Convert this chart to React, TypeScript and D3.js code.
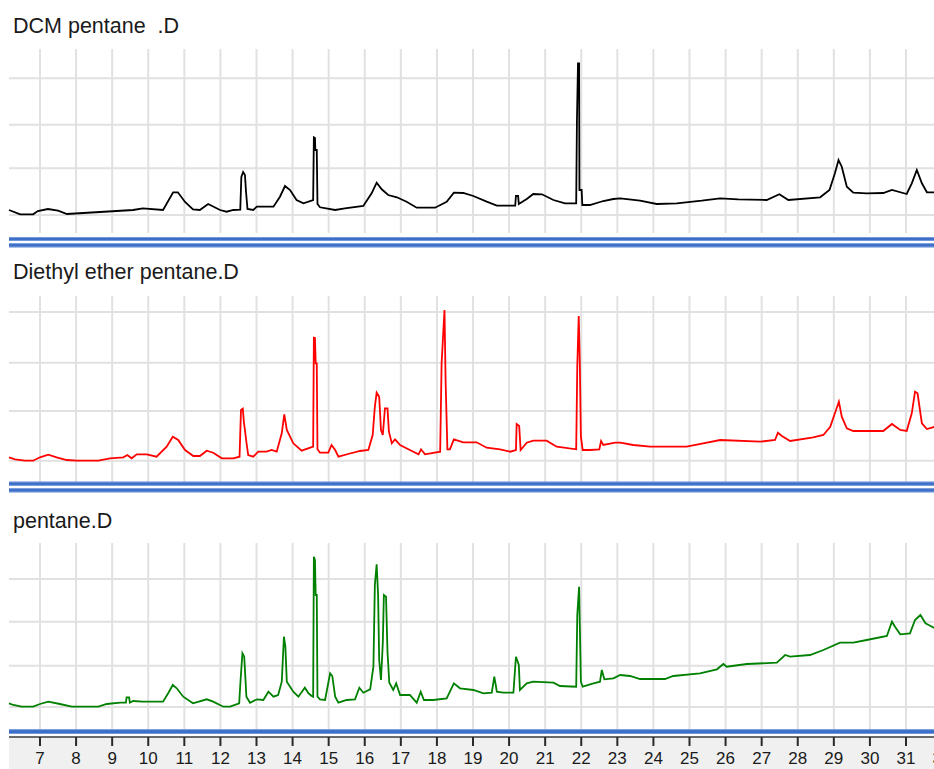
import React from "react";
import * as d3 from "d3";

// ---- data (retention time in minutes, abundance in arbitrary units) ----
const panelTitles = ["DCM pentane\u00a0\u00a0.D", "Diethyl ether pentane.D", "pentane.D"];
const traceColors = ["#000000", "#ff0000", "#008000"];
const xTickValues = [7, 8, 9, 10, 11, 12, 13, 14, 15, 16, 17, 18, 19, 20, 21, 22, 23, 24, 25, 26, 27, 28, 29, 30, 31, 32];

const dcmTrace: [number, number][] = [
  [6.14, 23], [6.45, 18.7], [6.81, 18.7], [6.94, 22], [7.22, 24], [7.5, 22.3], [7.75, 19], [8.66, 21], [9.58, 23], [9.85, 24.7],
  [10.41, 23], [10.69, 40.7], [10.82, 40.7], [11.02, 31], [11.24, 23.7], [11.43, 23], [11.66, 29], [11.99, 23], [12.17, 21.3],
  [12.36, 23], [12.55, 23.3], [12.58, 56], [12.63, 61], [12.68, 58], [12.71, 41], [12.75, 24], [12.91, 23], [13.01, 26.3],
  [13.47, 26.3], [13.65, 36.3], [13.79, 47], [13.93, 43], [14.11, 33], [14.3, 29.7], [14.57, 33], [14.59, 95.7], [14.62, 95],
  [14.63, 83], [14.67, 83], [14.69, 29], [14.76, 25.7], [15.18, 23], [15.45, 24.7], [15.96, 27], [16.19, 39.7], [16.33, 50.3],
  [16.47, 43.7], [16.65, 38], [16.89, 35.7], [17.16, 31.3], [17.44, 25.3], [17.95, 25.3], [18.27, 31.3], [18.47, 40.3],
  [18.73, 40], [19.01, 37], [19.38, 31.3], [19.66, 27.3], [20.17, 27.3], [20.19, 37], [20.25, 37], [20.27, 29], [20.49, 34],
  [20.67, 39], [20.91, 38.7], [21.23, 33], [21.55, 29.7], [21.86, 29.7], [21.88, 111], [21.91, 169.7], [21.94, 169.7],
  [21.95, 43], [22.01, 43], [22.03, 28], [22.24, 28], [22.61, 32], [22.89, 34], [23.08, 34.7], [23.63, 32.3], [24.09, 29],
  [24.65, 29.7], [25.34, 32.3], [25.85, 34.7], [26.35, 33.7], [27.14, 33], [27.49, 38.7], [27.74, 33], [28.62, 35.7],
  [28.88, 43], [29.03, 59.7], [29.13, 73], [29.22, 66.3], [29.36, 46.3], [29.54, 40.3], [29.91, 39.7], [30.37, 40],
  [30.61, 43], [31.02, 39], [31.16, 49.7], [31.3, 63], [31.44, 49.7], [31.58, 40.7], [31.8, 40.7],
];

const etherTrace: [number, number][] = [
  [6.14, 24.7], [6.31, 22.7], [6.58, 21.3], [6.81, 21.3], [7.0, 24.7], [7.23, 27.3], [7.46, 24.7], [7.74, 22], [8.02, 21.3],
  [8.62, 21.3], [8.94, 23.7], [9.31, 24.7], [9.42, 27], [9.54, 23.7], [9.68, 27.7], [9.96, 27.7], [10.23, 25.3], [10.51, 35.3],
  [10.68, 45.3], [10.83, 42], [11.02, 32], [11.25, 26], [11.43, 26], [11.62, 31.3], [11.8, 29.3], [12.04, 23.7], [12.36, 23.7],
  [12.53, 25.3], [12.57, 72], [12.62, 73.3], [12.65, 60], [12.68, 52], [12.72, 40], [12.77, 27], [12.91, 25.3], [13.05, 30.3],
  [13.28, 30.3], [13.42, 32], [13.56, 30.3], [13.7, 48.7], [13.77, 67.7], [13.84, 52], [14.02, 38.7], [14.25, 31.3],
  [14.57, 35.3], [14.59, 144.3], [14.62, 144], [14.64, 118.7], [14.67, 118.7], [14.69, 32.7], [14.76, 29.3], [14.99, 29.3],
  [15.08, 37], [15.18, 32], [15.27, 25.3], [15.54, 28], [15.87, 31], [16.1, 32], [16.22, 47], [16.28, 75.3], [16.33, 89.3],
  [16.4, 85.3], [16.45, 52], [16.5, 47], [16.56, 73.7], [16.63, 73.7], [16.67, 50.3], [16.75, 38.7], [16.84, 42.7],
  [16.98, 37], [17.25, 32], [17.49, 27.7], [17.56, 32.7], [17.67, 27.7], [18.09, 30.3], [18.13, 118.7], [18.21, 172],
  [18.24, 102], [18.29, 32.7], [18.36, 32.7], [18.47, 42.7], [18.73, 39.7], [19.1, 39.7], [19.38, 34.3], [19.75, 32.7],
  [20.03, 30.3], [20.19, 32], [20.21, 58], [20.28, 56], [20.32, 32], [20.49, 39.3], [20.67, 41.3], [21.04, 41.3],
  [21.32, 35.3], [21.86, 32.7], [21.89, 115.3], [21.93, 166], [21.96, 120], [21.99, 45.3], [22.04, 32], [22.24, 32],
  [22.5, 32.7], [22.55, 41], [22.61, 37], [22.94, 39.3], [23.08, 39.3], [23.44, 37], [23.91, 35.3], [24.92, 35.3],
  [25.38, 38.7], [25.85, 42], [26.96, 40.3], [27.37, 42], [27.45, 49.3], [27.56, 46], [27.79, 41], [28.43, 44.7],
  [28.71, 47], [28.9, 55.3], [29.03, 68.7], [29.14, 80.3], [29.22, 65.3], [29.36, 53.7], [29.54, 51], [30.37, 51],
  [30.61, 58], [30.84, 52], [31.02, 51], [31.16, 68.7], [31.25, 90.3], [31.32, 88.7], [31.44, 58.7], [31.58, 53], [31.8, 55.3],
];

const pentaneTrace: [number, number][] = [
  [6.14, 26.7], [6.26, 25], [6.49, 23.3], [6.81, 23.3], [7.0, 26], [7.23, 28.3], [7.55, 26], [7.88, 23.3], [8.62, 23.3],
  [8.85, 26], [9.22, 27.3], [9.38, 27.3], [9.4, 32.7], [9.47, 32.7], [9.49, 27.3], [9.58, 29], [9.85, 28.3], [10.41, 28.3],
  [10.56, 37.3], [10.68, 45], [10.79, 41.7], [10.97, 33.3], [11.24, 26.7], [11.62, 30.7], [11.8, 28.3], [12.08, 23.3],
  [12.27, 23.3], [12.52, 26.7], [12.56, 50.7], [12.61, 76.7], [12.66, 73.3], [12.72, 33.3], [12.82, 27.3], [13.01, 30.7],
  [13.19, 30], [13.33, 38.3], [13.47, 33.3], [13.6, 35], [13.7, 48.3], [13.76, 93.3], [13.8, 83.3], [13.84, 48.3],
  [14.02, 38.3], [14.16, 33.3], [14.34, 42.3], [14.44, 36.7], [14.53, 34], [14.57, 33.3], [14.59, 173.3], [14.62, 170],
  [14.64, 135], [14.67, 135], [14.69, 33.3], [14.76, 30.7], [14.9, 30], [15.04, 56.7], [15.1, 54], [15.18, 33.3],
  [15.27, 27.3], [15.5, 30], [15.73, 30.7], [15.85, 42.3], [15.96, 37.3], [16.15, 40.7], [16.24, 63.3], [16.28, 145],
  [16.33, 165.7], [16.37, 135], [16.4, 70], [16.45, 50], [16.5, 86.7], [16.53, 135], [16.59, 133.3], [16.63, 78.3],
  [16.68, 47.3], [16.79, 40], [16.87, 46.7], [16.98, 35], [17.25, 35], [17.44, 27.3], [17.55, 38.3], [17.64, 30],
  [17.9, 30], [18.27, 31.7], [18.47, 46.7], [18.64, 41.7], [19.01, 40], [19.29, 36.7], [19.52, 37.3], [19.59, 53.3],
  [19.63, 45], [19.66, 38.3], [19.84, 37.3], [20.12, 37.3], [20.19, 73.3], [20.27, 65], [20.3, 40], [20.49, 46.7],
  [20.67, 48.3], [21.23, 47.3], [21.41, 44], [21.86, 43.3], [21.89, 115], [21.94, 143.3], [21.99, 48.3], [22.04, 43.3],
  [22.34, 46.7], [22.52, 48.3], [22.57, 60], [22.64, 50.7], [22.89, 51.7], [23.08, 55], [23.35, 54], [23.63, 51],
  [24.0, 51], [24.32, 51], [24.55, 54], [25.29, 56.7], [25.76, 60.7], [25.94, 66], [26.03, 63.3], [26.59, 66],
  [27.42, 67.3], [27.65, 75], [27.79, 73.3], [28.34, 75], [28.71, 80], [29.17, 87.3], [29.54, 87.3], [29.91, 90],
  [30.47, 94], [30.61, 108.3], [30.7, 103], [30.84, 95.7], [31.11, 96.7], [31.25, 110], [31.4, 115], [31.54, 106.7],
  [31.72, 103.3], [31.8, 101.7],
];

const traces = [dcmTrace, etherTrace, pentaneTrace];
// horizontal grid values per panel
const yGridValues = [
  [18, 64.7, 108.3, 154.7],
  [21.3, 71, 119.3, 170],
  [23, 64.3, 108.3, 151],
];

// ---- layout ----
const W = 934;
const H = 769;
const plotLeft = 9;
const panels = [
  { title: 33, top: 49, bottom: 233, bands: [[237, 4], [243.3, 4]] },
  { title: 279, top: 296, bottom: 482, bands: [[481.7, 4], [488.3, 4]] },
  { title: 528, top: 543, bottom: 730, bands: [[729.3, 4.7]] },
];
const axisY = 737;

export default function App() {
  const x = d3.scaleLinear().domain([7, 31]).range([40, 906]);
  const font = "'Liberation Sans', Arial, sans-serif";

  return (
    <svg
      width={W}
      height={H}
      viewBox={`0 0 ${W} ${H}`}
      style={{ position: "absolute", left: 0, top: 0, background: "#fff" }}
    >
      {panels.map((p, i) => {
        const y = d3
          .scaleLinear()
          .domain([0, p.bottom - p.top])
          .range([p.bottom, p.top]);
        const line = d3
          .line<[number, number]>()
          .x((d) => x(d[0]))
          .y((d) => y(d[1]));
        return (
          <g key={i}>
            <text
              x={13}
              y={p.title}
              fontFamily={font}
              fontSize={21.5}
              fill="#1a1a1a"
              style={{ whiteSpace: "pre" }}
            >
              {panelTitles[i]}
            </text>
            {xTickValues.map((t) => (
              <line
                key={"v" + t}
                x1={x(t)}
                x2={x(t)}
                y1={p.top}
                y2={p.bottom}
                stroke="#e1e1e1"
                strokeWidth={2}
              />
            ))}
            {yGridValues[i].map((v) => (
              <line
                key={"h" + v}
                x1={plotLeft}
                x2={W}
                y1={y(v)}
                y2={y(v)}
                stroke="#e1e1e1"
                strokeWidth={2}
              />
            ))}
            <path
              d={line(traces[i]) || ""}
              fill="none"
              stroke={traceColors[i]}
              strokeWidth={1.8}
              strokeLinejoin="miter"
            />
            {p.bands.map(([by, bh], j) => (
              <g key={"b" + j}>
                <rect x={plotLeft} y={by} width={W - plotLeft} height={bh} fill="#3d6fc9" />
                <rect x={plotLeft} y={by} width={W - plotLeft} height={0.8} fill="#7fa3df" />
                <rect x={plotLeft} y={by + bh - 0.8} width={W - plotLeft} height={0.8} fill="#7fa3df" />
              </g>
            ))}
          </g>
        );
      })}
      {/* bottom time axis */}
      <rect x={plotLeft} y={axisY} width={W - plotLeft} height={H - axisY} fill="#f0f0f0" />
      <line x1={plotLeft} x2={W} y1={axisY} y2={axisY} stroke="#3a3a3a" strokeWidth={1.5} />
      {xTickValues.map((t) => (
        <g key={"t" + t}>
          <line x1={x(t)} x2={x(t)} y1={axisY} y2={axisY + 9} stroke="#2a2a2a" strokeWidth={2} />
          <text
            x={x(t)}
            y={764}
            textAnchor="middle"
            fontFamily={font}
            fontSize={17}
            fill="#1a1a1a"
          >
            {t}
          </text>
        </g>
      ))}
    </svg>
  );
}
